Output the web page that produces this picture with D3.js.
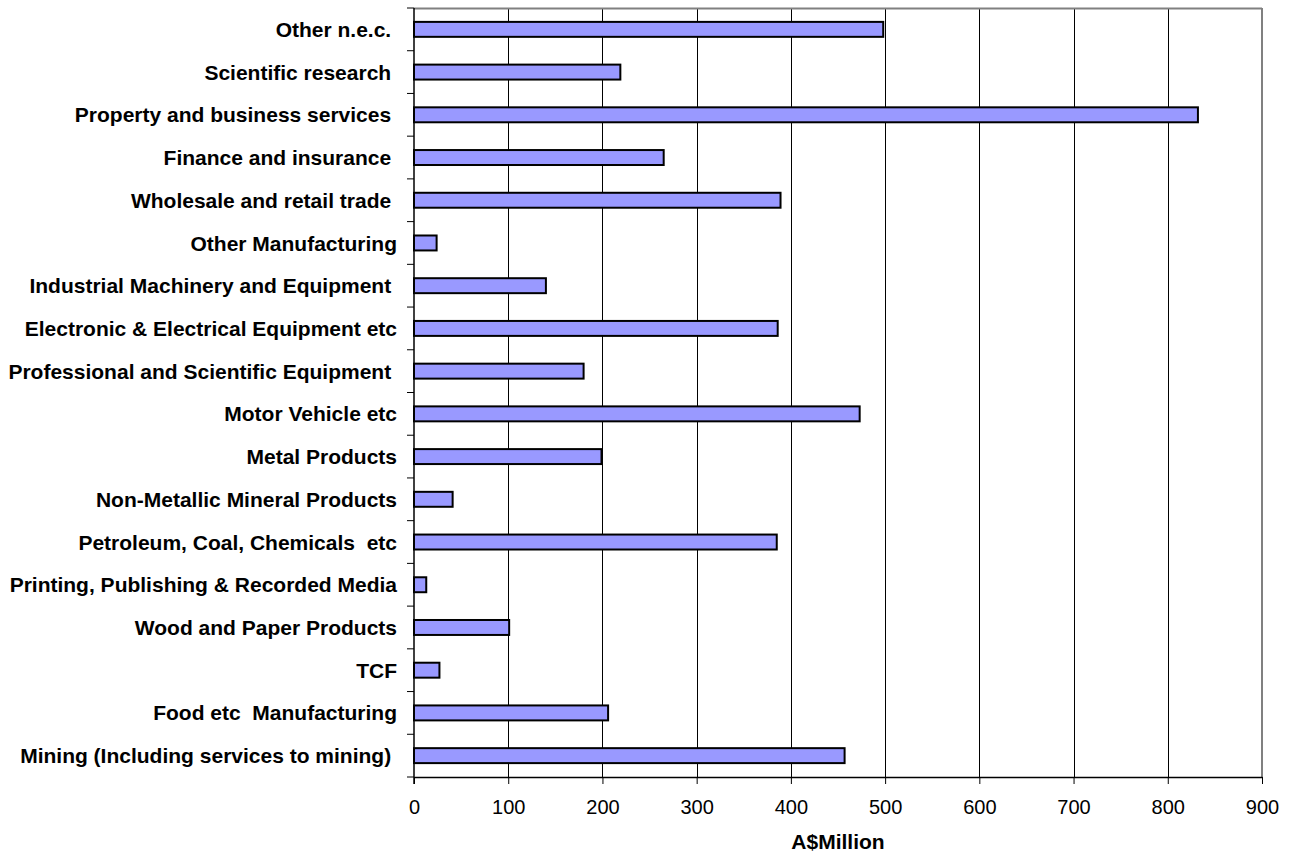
<!DOCTYPE html>
<html>
<head>
<meta charset="utf-8">
<script src="https://cdn.jsdelivr.net/npm/d3@7"></script>
<style>
  html, body { margin: 0; padding: 0; background: #fff; }
  svg { display: block; font-family: "Liberation Sans", Arial, sans-serif; }
  .cat-label { white-space: pre; }
</style>
</head>
<body>
<div id="chart"></div>
<script>
// Categories top to bottom (trailing / double spaces kept as in the source)
const categories = [
  'Other n.e.c. ',
  'Scientific research ',
  'Property and business services ',
  'Finance and insurance ',
  'Wholesale and retail trade ',
  'Other Manufacturing',
  'Industrial Machinery and Equipment ',
  'Electronic & Electrical Equipment etc',
  'Professional and Scientific Equipment ',
  'Motor Vehicle etc',
  'Metal Products',
  'Non-Metallic Mineral Products',
  'Petroleum, Coal, Chemicals  etc',
  'Printing, Publishing & Recorded Media',
  'Wood and Paper Products',
  'TCF',
  'Food etc  Manufacturing',
  'Mining (Including services to mining) '
];

// A$Million
const values = [498, 219, 832, 265, 389, 24, 140, 386, 180, 473, 199, 41, 385, 13, 101, 27, 206, 457];

const xTicks = [0, 100, 200, 300, 400, 500, 600, 700, 800, 900];
const xTitle = 'A$Million';

const W = 1295, H = 854;
const margin = { top: 8, right: 33, bottom: 77, left: 414 };
const plotW = W - margin.left - margin.right;
const plotH = H - margin.top - margin.bottom;

const BAR_COLOR = '#9999ff';
const FONT = '"Liberation Sans", Arial, sans-serif';

const svg = d3.select('#chart').append('svg')
  .attr('width', W).attr('height', H);

const x = d3.scaleLinear().domain([0, 900]).range([0, plotW]);
const y = d3.scaleBand().domain(categories).range([0, plotH])
  .paddingInner(0.65).paddingOuter(0.325);

const g = svg.append('g').attr('transform', `translate(${margin.left},${margin.top})`);

// gridlines
g.selectAll('.grid')
  .data(xTicks.filter(t => t > 0 && t < 900))
  .join('line')
  .attr('x1', d => Math.round(x(d)) + 0.5).attr('x2', d => Math.round(x(d)) + 0.5)
  .attr('y1', 0).attr('y2', plotH)
  .attr('stroke', '#000').attr('stroke-width', 1);

// top / right border in grey
g.append('line')
  .attr('x1', 0).attr('x2', plotW).attr('y1', 0.5).attr('y2', 0.5)
  .attr('stroke', '#808080').attr('stroke-width', 2);
g.append('line')
  .attr('x1', plotW).attr('x2', plotW).attr('y1', 0).attr('y2', plotH)
  .attr('stroke', '#808080').attr('stroke-width', 2);

// bars
g.selectAll('.bar')
  .data(categories)
  .join('rect')
  .attr('class', 'bar')
  .attr('x', 0)
  .attr('y', d => y(d))
  .attr('width', (d, i) => x(values[i]))
  .attr('height', y.bandwidth())
  .attr('fill', BAR_COLOR)
  .attr('stroke', '#000')
  .attr('stroke-width', 2);

// y axis line and ticks at band boundaries
g.append('line')
  .attr('x1', 0).attr('x2', 0).attr('y1', 0).attr('y2', plotH + 7)
  .attr('stroke', '#000').attr('stroke-width', 1.5);
const bounds = d3.range(categories.length + 1).map(i => i * y.step());
g.selectAll('.ytick')
  .data(bounds)
  .join('line')
  .attr('x1', -7).attr('x2', 0)
  .attr('y1', d => d).attr('y2', d => d)
  .attr('stroke', '#000').attr('stroke-width', 1);

// category labels
g.selectAll('.cat-label')
  .data(categories)
  .join('text')
  .attr('class', 'cat-label')
  .attr('x', -17)
  .attr('y', d => y(d) + y.bandwidth() / 2)
  .attr('dy', '0.36em')
  .attr('text-anchor', 'end')
  .attr('font-size', '21px')
  .attr('font-weight', 'bold')
  .attr('fill', '#000')
  .text(d => d);

// x axis
const xAxis = g.append('g')
  .attr('transform', `translate(0,${plotH})`)
  .call(d3.axisBottom(x).tickValues(xTicks).tickSize(7).tickPadding(16).tickSizeOuter(0));
xAxis.select('.domain').attr('stroke', '#000').attr('stroke-width', 1.5);
xAxis.selectAll('.tick line').attr('stroke', '#000');
xAxis.selectAll('.tick text')
  .attr('font-family', FONT)
  .attr('font-size', '20px').attr('fill', '#000');

// x axis title
g.append('text')
  .attr('x', plotW / 2)
  .attr('y', plotH + 72)
  .attr('text-anchor', 'middle')
  .attr('font-size', '21px')
  .attr('font-weight', 'bold')
  .text(xTitle);
</script>
</body>
</html>
